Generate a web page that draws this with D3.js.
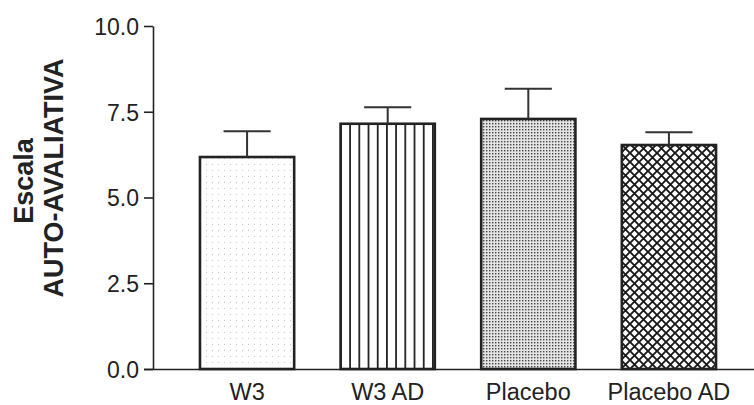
<!DOCTYPE html>
<html><head><meta charset="utf-8">
<script src="https://cdn.jsdelivr.net/npm/d3@7"></script>
<style>body{margin:0;background:#fff}svg{display:block}</style>
</head><body>
<svg id="c" width="754" height="405"></svg>
<script>
const categories = ["W3", "W3 AD", "Placebo", "Placebo AD"];
const means = [6.18, 7.15, 7.29, 6.53];
const errors = [0.75, 0.48, 0.88, 0.37];
const yTicks = [0, 2.5, 5, 7.5, 10];
const patterns = ["dotsLight", "vlines", "stipple", "cross"];

const svg = d3.select("#c");
const font = "'Liberation Sans', Arial, Helvetica, sans-serif";
const ink = "#222";

const defs = svg.append("defs");
// light dots
let p = defs.append("pattern").attr("id","dotsLight").attr("patternUnits","userSpaceOnUse").attr("width",6).attr("height",6);
p.append("rect").attr("width",6).attr("height",6).attr("fill","#fff");
p.append("rect").attr("x",2).attr("y",2).attr("width",1).attr("height",1).attr("fill","#c8c8c8");
// vertical lines
p = defs.append("pattern").attr("id","vlines").attr("patternUnits","userSpaceOnUse").attr("width",9.2).attr("height",10).attr("x",200+141-1);
p.append("rect").attr("width",9.2).attr("height",10).attr("fill","#fff");
p.append("rect").attr("x",0).attr("y",0).attr("width",1.8).attr("height",10).attr("fill","#222");
// stipple
p = defs.append("pattern").attr("id","stipple").attr("patternUnits","userSpaceOnUse").attr("width",3).attr("height",3);
p.append("rect").attr("width",3).attr("height",3).attr("fill","#e4e4e4");
p.append("rect").attr("x",0).attr("y",0).attr("width",1.4).attr("height",1.4).attr("fill","#444");
// crosshatch
p = defs.append("pattern").attr("id","cross").attr("patternUnits","userSpaceOnUse").attr("width",9).attr("height",9);
p.append("rect").attr("width",9).attr("height",9).attr("fill","#fff");
p.append("path").attr("d","M-1,-1L10,10M10,-1L-1,10").attr("stroke","#1a1a1a").attr("stroke-width",1.9).attr("fill","none");

const y = d3.scaleLinear().domain([0, 10]).range([369, 26]);
const x = d3.scaleBand().domain(categories).range([153, 763]).paddingInner(0.33).paddingOuter(0.334);

// bars
const g = svg.append("g");
g.selectAll("rect.bar").data(categories).join("rect").attr("class","bar")
  .attr("x", d => x(d)).attr("width", x.bandwidth())
  .attr("y", (d,i) => y(means[i])).attr("height", (d,i) => y(0) - y(means[i]))
  .attr("fill", (d,i) => `url(#${patterns[i]})`)
  .attr("stroke", ink).attr("stroke-width", 2.6);

// error bars
const eb = g.selectAll("g.eb").data(categories).join("g").attr("class","eb");
eb.append("line")
  .attr("x1", d => x(d) + x.bandwidth()/2).attr("x2", d => x(d) + x.bandwidth()/2)
  .attr("y1", (d,i) => y(means[i])).attr("y2", (d,i) => y(means[i] + errors[i]))
  .attr("stroke", "#333").attr("stroke-width", 2);
eb.append("line")
  .attr("x1", d => x(d) + x.bandwidth()/4).attr("x2", d => x(d) + 3*x.bandwidth()/4)
  .attr("y1", (d,i) => y(means[i] + errors[i])).attr("y2", (d,i) => y(means[i] + errors[i]))
  .attr("stroke", "#333").attr("stroke-width", 2);

// y axis
const ya = svg.append("g").attr("transform","translate(153,0)")
  .call(d3.axisLeft(y).tickValues(yTicks).tickFormat(d3.format(".1f")).tickSize(9).tickPadding(5).tickSizeOuter(0));
ya.select(".domain").attr("stroke", ink).attr("stroke-width", 1.6);
ya.selectAll(".tick line").attr("stroke", ink).attr("stroke-width", 1.6);
ya.selectAll(".tick text").attr("font-family", font).attr("font-size", 23).attr("fill", ink).attr("dy","0.36em");

// x axis
const xa = svg.append("g").attr("transform","translate(0,369)")
  .call(d3.axisBottom(x).tickSize(0).tickPadding(14).tickSizeOuter(0));
xa.select(".domain").attr("d","M144,0.5H754").attr("stroke", ink).attr("stroke-width", 1.6);
xa.selectAll(".tick text").attr("font-family", font).attr("font-size", 23.5).attr("fill", ink);

// y label
svg.append("text").attr("transform","translate(33,181) rotate(-90)")
  .attr("text-anchor","middle").attr("font-family", font).attr("font-weight","bold")
  .attr("font-size", 27).attr("fill", ink).text("Escala");
svg.append("text").attr("transform","translate(63,178) rotate(-90)")
  .attr("text-anchor","middle").attr("font-family", font).attr("font-weight","bold")
  .attr("font-size", 27).attr("fill", ink).text("AUTO-AVALIATIVA");
</script>
</body></html>
